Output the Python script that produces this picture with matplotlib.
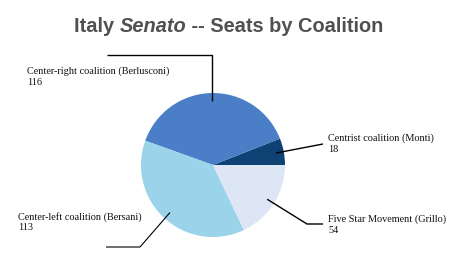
import matplotlib
matplotlib.use("Agg")
import matplotlib.pyplot as plt
import numpy as np

# seats per coalition, in drawing order (counter-clockwise from 3 o'clock)
COALITIONS = ["Centrist coalition (Monti)", "Center-right coalition (Berlusconi)",
              "Center-left coalition (Bersani)", "Five Star Movement (Grillo)"]
SEATS = [18, 116, 113, 54]
COLORS = ["#0e4275", "#4a7ec6", "#9bd3ea", "#dde6f5"]

W, H = 450, 267
CX, CY, R = 213, H - 165, 72
TITLE_GREY = "#505050"
SERIF = "Liberation Serif"

fig = plt.figure(figsize=(W / 100, H / 100), dpi=100)
ax = fig.add_axes([0, 0, 1, 1])
wedges, _ = ax.pie(SEATS, colors=COLORS, startangle=0, counterclock=True,
                   center=(CX, CY), radius=R, frame=True,
                   wedgeprops=dict(linewidth=0))
ax.set_xlim(0, W)
ax.set_ylim(0, H)
ax.set_aspect("equal")
ax.axis("off")


def anchor(i, frac=0.89):
    w = wedges[i]
    a = np.deg2rad((w.theta1 + w.theta2) / 2)
    return CX + frac * R * np.cos(a), CY + frac * R * np.sin(a)


# leader lines (pixel coords from top, flipped)
def line(pts, lw=1.0):
    xs = [p[0] for p in pts]
    ys = [p[1] for p in pts]
    ax.plot(xs, ys, color="black", lw=lw, solid_capstyle="butt")


x0, y0 = anchor(1)
line([(x0, y0), (x0, H - 55), (107, H - 55)])
x0, y0 = anchor(0)
line([(x0, y0), (323, H - 144)])
x0, y0 = anchor(3)
line([(x0, y0), (307, H - 224), (323, H - 224)])
x0, y0 = anchor(2)
line([(x0, y0), (140, H - 247), (106, H - 247)], lw=0.8)

label_pos = {0: (328, 144), 1: (27, 77), 2: (18, 222), 3: (328, 224.5)}
for i, (lx, ly) in label_pos.items():
    ax.text(lx, H - ly, f"{COALITIONS[i]}\n{SEATS[i]}", ha="left", va="center",
            fontsize=7.4, family=SERIF, linespacing=1.25, color="#111111")

# title with italic "Senato"
parts = [("Italy ", "normal"), ("Senato", "italic"), (" -- Seats by Coalition", "normal")]
fig.canvas.draw()
renderer = fig.canvas.get_renderer()
texts = []
for s, style in parts:
    t = fig.text(0, 0, s, fontsize=14.4, fontweight="bold", fontstyle=style,
                 family="Liberation Sans", color=TITLE_GREY, va="baseline")
    texts.append(t)
widths = [t.get_window_extent(renderer).width for t in texts]
x = 229 - sum(widths) / 2
for t, w in zip(texts, widths):
    t.set_position((x / W, 1 - 32 / H))
    x += w

fig.savefig("out.png", dpi=100)
